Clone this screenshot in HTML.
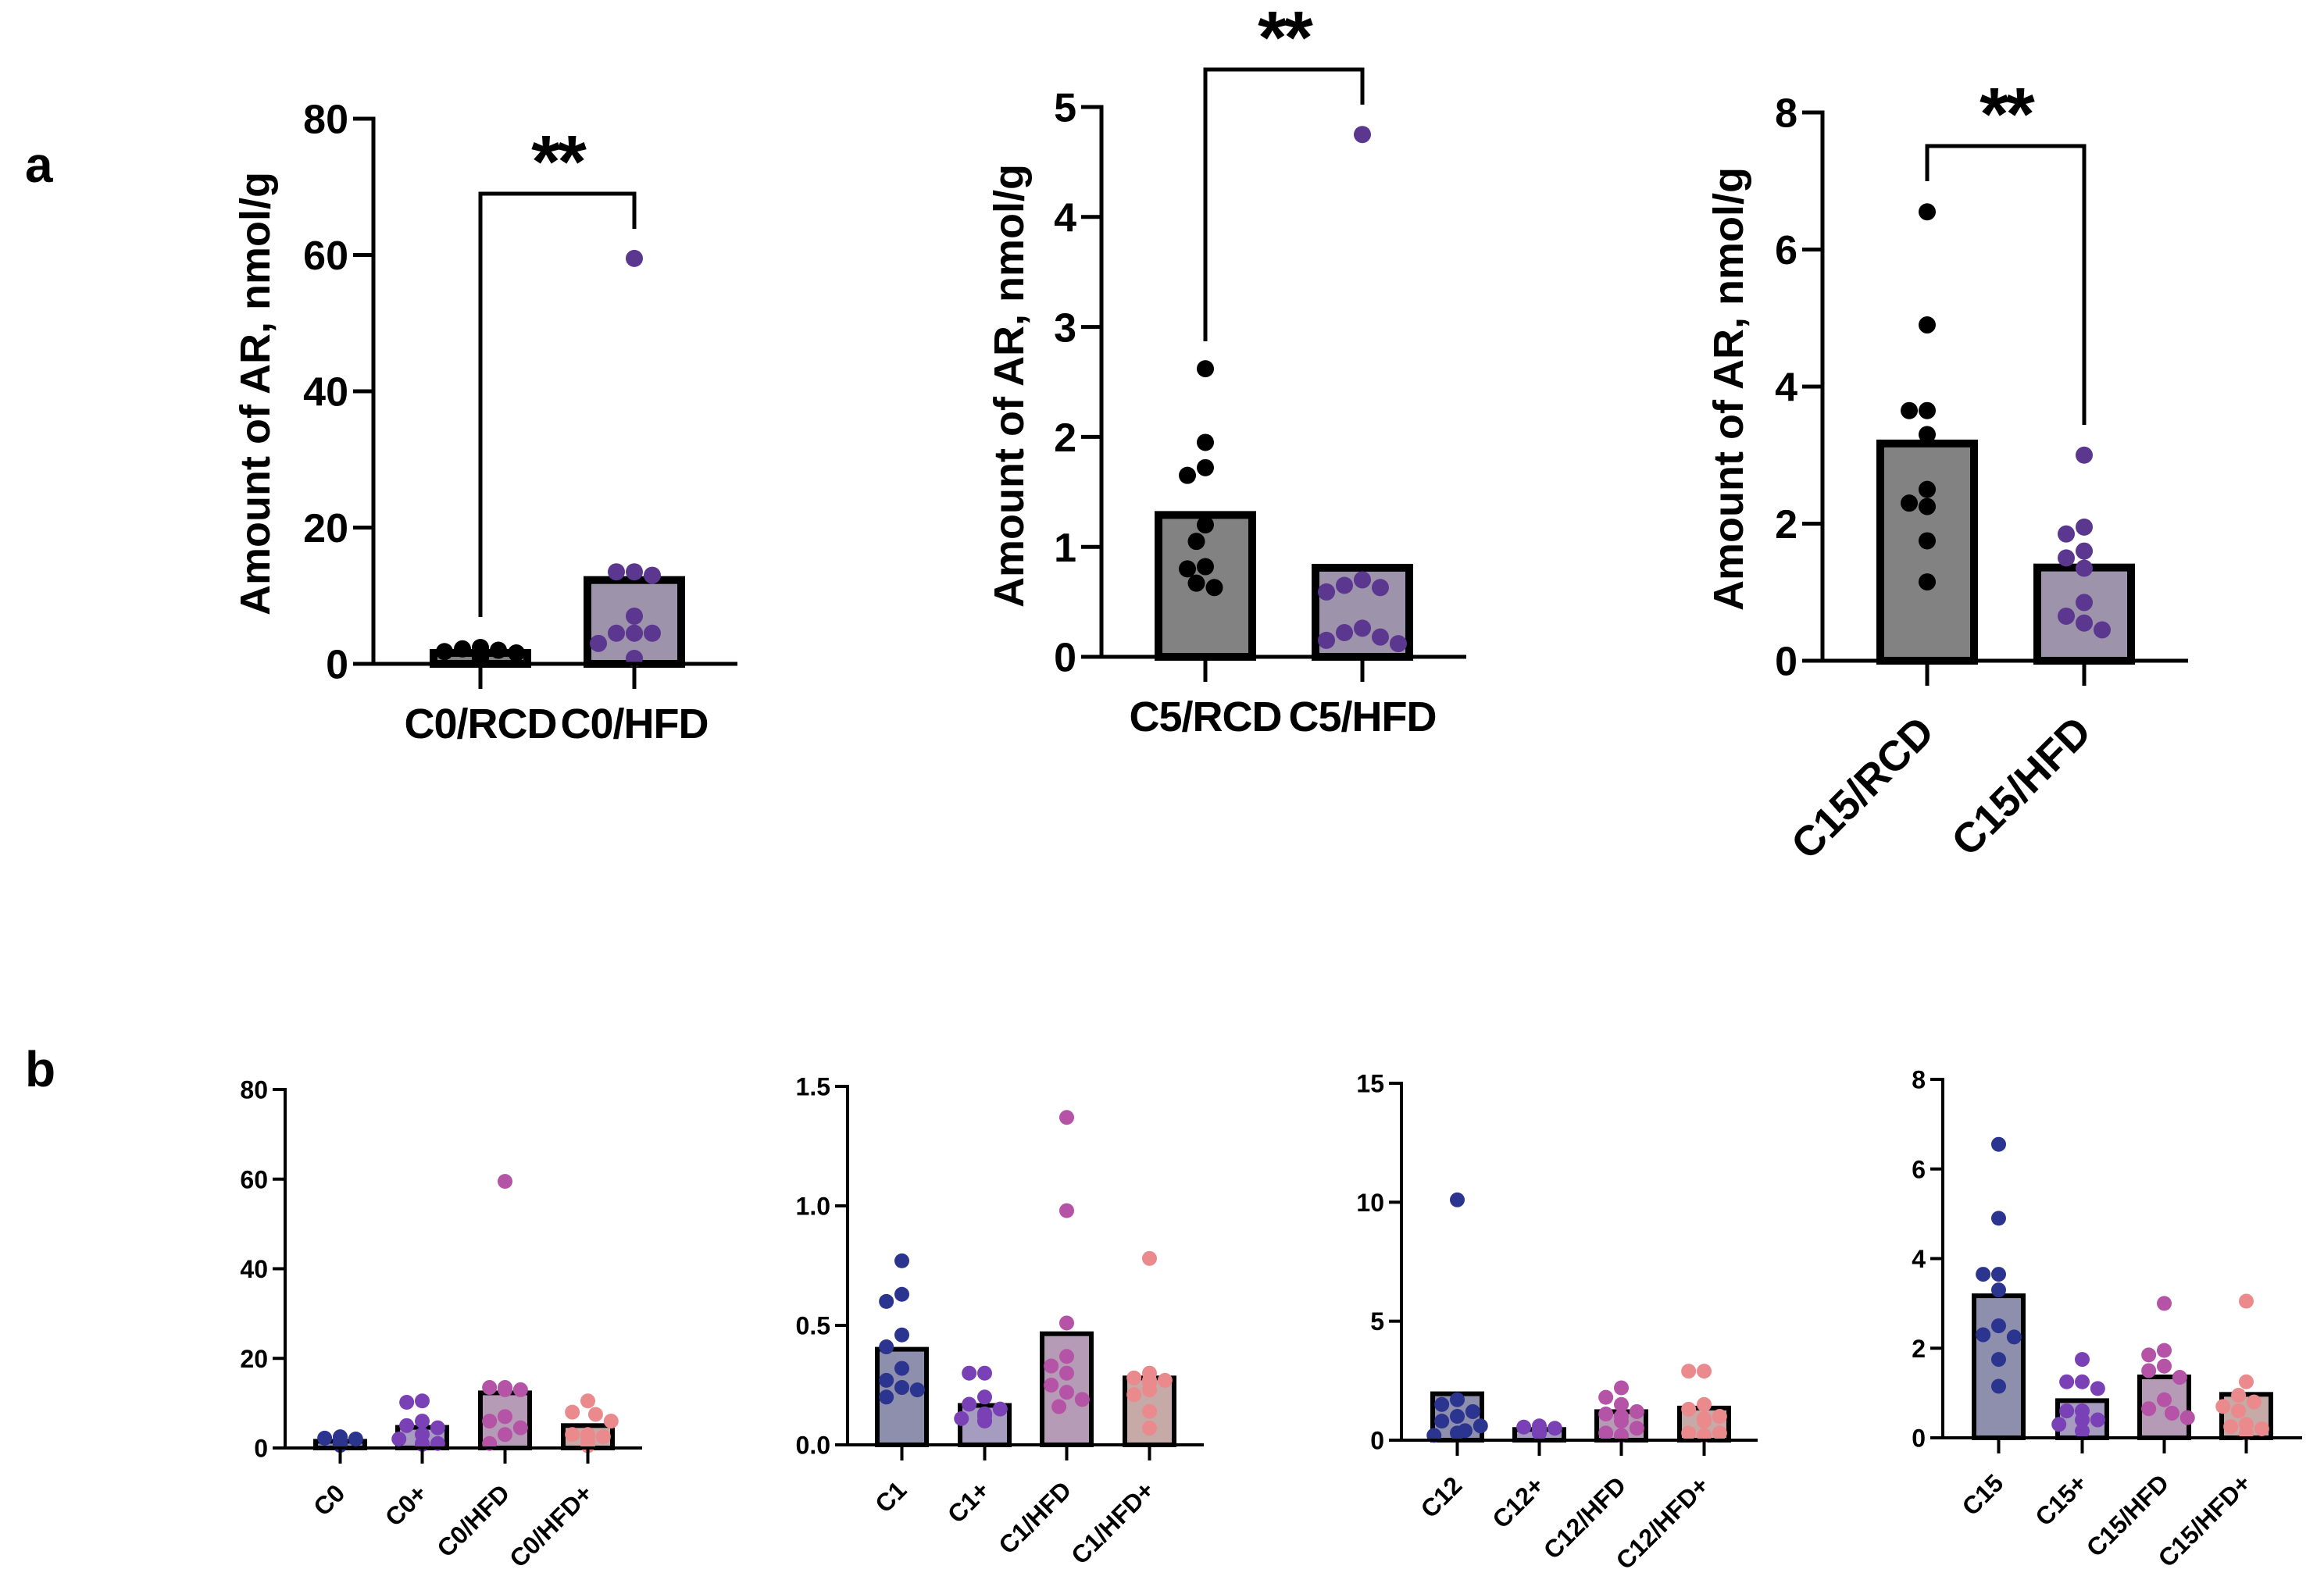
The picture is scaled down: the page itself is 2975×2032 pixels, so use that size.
<!DOCTYPE html>
<html><head><meta charset="utf-8"><title>AR amounts</title>
<style>
html,body{margin:0;padding:0;background:#fff;}
svg{display:block;font-family:"Liberation Sans",Arial,sans-serif;font-weight:bold;}
</style></head>
<body>
<svg id="fig" width="2975" height="2032" viewBox="0 0 2975 2032" xmlns="http://www.w3.org/2000/svg">
<rect width="2975" height="2032" fill="#fff"/>
<text x="32" y="233" font-size="64">a</text>
<text x="32" y="1391" font-size="64">b</text>
</svg>
<script>
// ---------- Panel a1: C0 ----------
const a1Categories = ["C0/RCD","C0/HFD"];
const a1Means = [1.6, 12.3];
const a1Points = [
  [2.4,2.2,2.0,1.8,1.6,1.5,1.3,1.2,1.0,0.9],
  [59.5,13.5,13.0,13.5,7.0,4.5,4.5,4.5,3.0,0.8]
];
const a1Ticks = [0,20,40,60,80];
// ---------- Panel a2: C5 ----------
const a2Categories = ["C5/RCD","C5/HFD"];
const a2Means = [1.29, 0.81];
const a2Points = [
  [2.62,1.95,1.65,1.72,1.2,1.05,0.8,0.82,0.63,0.67],
  [4.75,0.7,0.63,0.65,0.59,0.15,0.26,0.18,0.22,0.12]
];
const a2Ticks = [0,1,2,3,4,5];
// ---------- Panel a3: C15 ----------
const a3Categories = ["C15/RCD","C15/HFD"];
const a3Means = [3.17, 1.36];
const a3Points = [
  [6.55,4.9,3.65,3.65,3.3,2.5,2.25,2.3,1.75,1.15],
  [3.0,1.95,1.85,1.6,1.5,1.35,0.85,0.65,0.55,0.45]
];
const a3Ticks = [0,2,4,6,8];
// ---------- Panel b1 ----------
const b1Categories = ["C0","C0+","C0/HFD","C0/HFD+"];
const b1Means = [1.5, 4.6, 12.3, 5.0];
const b1Points = [
  [2.5,2.2,2.0,1.8,1.6,1.4,1.2,1.0,0.8,0.6],
  [10.5,10.2,6.0,5.0,4.5,3.0,2.0,1.0,1.0,0.8],
  [59.5,13.5,13.0,13.5,13.0,7.0,6.0,4.5,3.0,1.0],
  [10.5,8.0,7.5,6.0,3.0,2.5,2.5,1.5,0.5,3.0]
];
const b1Ticks = [0,20,40,60,80];
const b1TickLabels = ["0","20","40","60","80"];
// ---------- Panel b2 ----------
const b2Categories = ["C1","C1+","C1/HFD","C1/HFD+"];
const b2Means = [0.40, 0.165, 0.465, 0.28];
const b2Points = [
  [0.77,0.63,0.60,0.46,0.41,0.32,0.27,0.24,0.23,0.20],
  [0.30,0.30,0.20,0.17,0.15,0.13,0.12,0.11,0.10,0.10],
  [1.37,0.98,0.51,0.37,0.33,0.30,0.25,0.22,0.19,0.16],
  [0.78,0.30,0.28,0.27,0.26,0.23,0.21,0.14,0.07,0.27]
];
const b2Ticks = [0,0.5,1.0,1.5];
const b2TickLabels = ["0.0","0.5","1.0","1.5"];
// ---------- Panel b3 ----------
const b3Categories = ["C12","C12+","C12/HFD","C12/HFD+"];
const b3Means = [1.95, 0.45, 1.2, 1.35];
const b3Points = [
  [10.1,1.7,1.5,1.2,1.0,0.8,0.6,0.4,0.3,0.2],
  [0.6,0.55,0.5,0.5,0.45,0.4,0.4,0.35,0.3,0.3],
  [2.2,1.8,1.5,1.2,1.1,1.0,0.8,0.5,0.3,0.2],
  [2.9,2.9,1.5,1.3,1.0,0.9,0.8,0.3,0.3,0.2]
];
const b3Ticks = [0,5,10,15];
const b3TickLabels = ["0","5","10","15"];
// ---------- Panel b4 ----------
const b4Categories = ["C15","C15+","C15/HFD","C15/HFD+"];
const b4Means = [3.17, 0.83, 1.36, 0.97];
const b4Points = [
  [6.55,4.9,3.65,3.65,3.3,2.5,2.25,2.3,1.75,1.15],
  [1.75,1.25,1.25,1.1,0.6,0.6,0.4,0.4,0.3,0.15],
  [3.0,1.95,1.85,1.6,1.5,1.35,0.85,0.65,0.55,0.45],
  [3.05,1.25,0.95,0.8,0.7,0.6,0.3,0.25,0.2,0.1]
];
const b4Ticks = [0,2,4,6,8];
const b4TickLabels = ["0","2","4","6","8"];

const NS = "http://www.w3.org/2000/svg";
const svg = document.getElementById("fig");
function el(tag, attrs, parent){
  const e = document.createElementNS(NS, tag);
  for (const k in attrs) e.setAttribute(k, attrs[k]);
  (parent||svg).appendChild(e);
  return e;
}

function swarm(vals, cx, yScale, r, half){
  const placed = [];
  const order = vals.map((v,i)=>i).sort((a,b)=>vals[b]-vals[a]);
  const res = new Array(vals.length);
  const step = r*1.9;
  order.forEach(i=>{
    const y = yScale(vals[i]);
    let best = 0;
    const opts=[0];
    for(let k=1;k<8;k++){opts.push(-k*step*0.55, k*step*0.55);}
    for(const dx of opts){
      if (Math.abs(dx)>half) continue;
      let ok=true;
      for(const p of placed){ if (Math.hypot(p.x-(cx+dx), p.y-y) < 2*r*0.98){ok=false;break;} }
      if(ok){best=dx;break;}
    }
    res[i]={x:cx+best,y:y};
    placed.push(res[i]);
  });
  return res;
}

function panel(cfg){
  const g = el("g", {});
  
  
  const y = v => cfg.y0 - (v - cfg.ticks[0])/(cfg.ticks[cfg.ticks.length-1]-cfg.ticks[0])*(cfg.y0-cfg.yTop);
  const xc = i => cfg.barL[i] + cfg.barW/2;
  cfg.means.forEach((m,i)=>{
    const b = el("rect",{x:cfg.barL[i]+cfg.bs/2, y:y(m), width:cfg.barW-cfg.bs, height:Math.max(0,cfg.y0-y(m)), fill:cfg.fills[i], stroke:"#000","stroke-width":cfg.bs}, g);
    
    
  });
  cfg.points.forEach((arr,i)=>{
    const pos = swarm(arr, xc(i), y, cfg.r, cfg.barW/2+cfg.r*0.3);
    pos.forEach(p=>{
      const c = el("circle",{cx:p.x, cy:p.y, r:cfg.r, fill:cfg.dots[i]}, g);
      
      
    });
  });
  const ya = el("line",{x1:cfg.ax, y1:cfg.yTop-cfg.as/2, x2:cfg.ax, y2:cfg.y0, stroke:"#000","stroke-width":cfg.as}, g);
  
  
  const xa = el("line",{x1:cfg.ax-cfg.tl, y1:cfg.y0, x2:cfg.axR, y2:cfg.y0, stroke:"#000","stroke-width":cfg.as}, g);
  
  
  cfg.ticks.forEach((t,k)=>{
    el("line",{x1:cfg.ax-cfg.tl, y1:y(t), x2:cfg.ax, y2:y(t), stroke:"#000","stroke-width":cfg.as}, g);
    const tx = el("text",{x:cfg.ax-cfg.tl-6, y:y(t)+cfg.tf*0.36, "font-size":cfg.tf, "text-anchor":"end"}, g);
    tx.textContent = cfg.tickLabels ? cfg.tickLabels[k] : String(t);
    
    
  });
  cfg.cats.forEach((c,i)=>{
    el("line",{x1:xc(i), y1:cfg.y0, x2:xc(i), y2:cfg.y0+cfg.xtl, stroke:"#000","stroke-width":cfg.as}, g);
    let t;
    if (cfg.rot){
      const ex = xc(i)+cfg.lx, ey = cfg.y0+cfg.xtl+cfg.ly;
      t = el("text",{x:ex, y:ey, "font-size":cfg.xf, "text-anchor":"end", transform:`rotate(-45 ${ex} ${ey})`}, g);
    } else {
      t = el("text",{x:xc(i), y:cfg.labY, "font-size":cfg.xf, "text-anchor":"middle", "letter-spacing":"-1"}, g);
    }
    t.textContent = c;
    
    
  });
  if (cfg.title){
    const tt = el("text",{x:cfg.title.x, y:cfg.title.y, "font-size":54, "text-anchor":"middle", transform:`rotate(-90 ${cfg.title.x} ${cfg.title.y})`}, g);
    tt.textContent = "Amount of AR, nmol/g";
    
    
  }
  if (cfg.br){
    const b = cfg.br;
    const p = el("polyline",{points:`${xc(0)},${b.lb} ${xc(0)},${b.top} ${xc(1)},${b.top} ${xc(1)},${b.rb}`, fill:"none", stroke:"#000","stroke-width":5}, g);
    
    
    const s = el("text",{x:(xc(0)+xc(1))/2, y:b.top-8, "font-size":96, "text-anchor":"middle", "letter-spacing":"-4"}, g);
    s.textContent = "**";
    
    
  }
}

const topFills = ["#828282","#9d93ab"], topDots = ["#000000","#5c3790"];
const botFills = ["#8d8fad","#a59cc0","#b59bb5","#c5aaa8"], botDots = ["#2b348f","#7a40b5","#b553a6","#ea8a8c"];

panel({name:"panel-a-c0", cats:a1Categories, means:a1Means, points:a1Points, ticks:a1Ticks,
  ax:478, axR:944, y0:850, yTop:152, barL:[550,747], barW:130, bs:10, as:5, tl:26, xtl:32, tf:52, xf:54, r:11,
  fills:topFills, dots:topDots, labY:945, title:{x:345,y:504}, br:{top:248,lb:790,rb:293}});
panel({name:"panel-a-c5", cats:a2Categories, means:a2Means, points:a2Points, ticks:a2Ticks,
  ax:1410, axR:1877, y0:841, yTop:137, barL:[1478,1679], barW:130, bs:10, as:5, tl:26, xtl:32, tf:52, xf:54, r:11,
  fills:topFills, dots:topDots, labY:936, title:{x:1310,y:494}, br:{top:89,lb:437,rb:134}});
panel({name:"panel-a-c15", cats:a3Categories, means:a3Means, points:a3Points, ticks:a3Ticks,
  ax:2333, axR:2801, y0:846, yTop:144, barL:[2402,2603], barW:130, bs:10, as:5, tl:26, xtl:32, tf:52, xf:54, r:11,
  fills:topFills, dots:topDots, rot:true, lx:12, ly:62, title:{x:2231,y:498}, br:{top:187,lb:232,rb:544}});

panel({name:"panel-b-c0", cats:b1Categories, means:b1Means, points:b1Points, ticks:b1Ticks, tickLabels:b1TickLabels,
  ax:365, axR:822, y0:1854, yTop:1395, barL:[401,506,612,718], barW:69, bs:6, as:4, tl:16, xtl:20, tf:32, xf:32, r:9.5,
  fills:botFills, dots:botDots, rot:true, lx:8, ly:40});
panel({name:"panel-b-c1", cats:b2Categories, means:b2Means, points:b2Points, ticks:b2Ticks, tickLabels:b2TickLabels,
  ax:1085, axR:1541, y0:1850, yTop:1391, barL:[1120,1226,1331,1437], barW:69, bs:6, as:4, tl:16, xtl:20, tf:32, xf:32, r:9.5,
  fills:botFills, dots:botDots, rot:true, lx:8, ly:40});
panel({name:"panel-b-c12", cats:b3Categories, means:b3Means, points:b3Points, ticks:b3Ticks, tickLabels:b3TickLabels,
  ax:1794, axR:2250, y0:1844, yTop:1387, barL:[1831,1936,2041,2147], barW:69, bs:6, as:4, tl:16, xtl:20, tf:32, xf:32, r:9.5,
  fills:botFills, dots:botDots, rot:true, lx:8, ly:40});
panel({name:"panel-b-c15", cats:b4Categories, means:b4Means, points:b4Points, ticks:b4Ticks, tickLabels:b4TickLabels,
  ax:2487, axR:2947, y0:1841, yTop:1382, barL:[2524,2631,2736,2841], barW:69, bs:6, as:4, tl:16, xtl:20, tf:32, xf:32, r:9.5,
  fills:botFills, dots:botDots, rot:true, lx:8, ly:40});
</script>
</body></html>
